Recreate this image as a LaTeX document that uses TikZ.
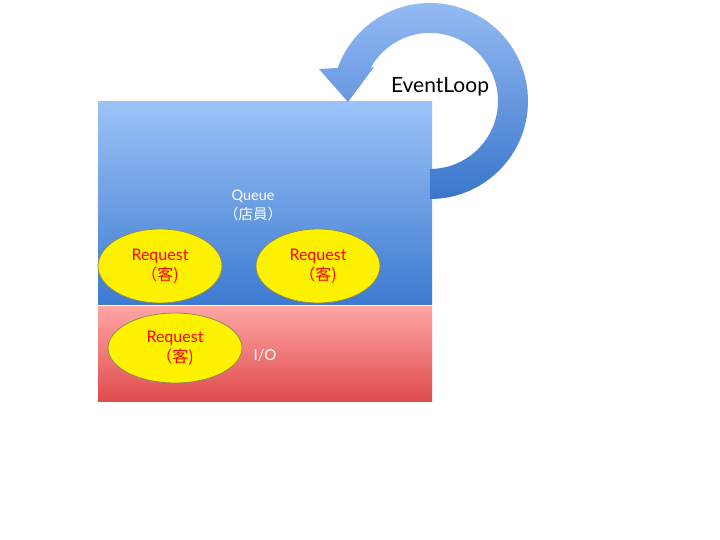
\documentclass[tikz,border=0pt]{standalone}
\usepackage{fontspec}
\setmainfont{Lato}
\newfontfamily\cjk{Noto Sans CJK JP}
\usetikzlibrary{shapes.geometric}
\definecolor{qtop}{HTML}{9CC2F8}
\definecolor{qbot}{HTML}{3C7AD0}
\definecolor{iotop}{HTML}{FFA4A4}
\definecolor{iobot}{HTML}{DF4B4B}
\definecolor{arrtop}{HTML}{94BAF3}
\definecolor{arrbot}{HTML}{3A76CB}
\definecolor{reqline}{HTML}{8C8A55}
\begin{document}
\begin{tikzpicture}[x=1pt, y=1pt,
    every node/.style={font=\fontsize{14.5}{19}\selectfont, align=center},
    layer/.style={minimum width=334pt, inner sep=0pt},
    req/.style={ellipse, draw=reqline, line width=0.8pt, fill=yellow,
      minimum width=124pt, minimum height=74pt, inner sep=0pt,
      text=red, font=\fontsize{16}{20}\selectfont},
    lbl/.style={text=white}]
  \useasboundingbox (0,0) rectangle (720,540);
  % Layers
  \node[layer, minimum height=203pt, top color=qtop, bottom color=qbot] (queue) at (265,336.5) {};
  \node[layer, minimum height=95pt, top color=iotop, bottom color=iobot] (io) at (265,185.5) {};
  \node[lbl] (qlabel) at (253,335) {Queue\\{\cjk （店員）}};
  \node[lbl, font=\fontsize{15}{18}\selectfont] (iolabel) at (265,185) {I/O};
  % Requests
  \node[req] (req1) at (160,274) {Request\\{\cjk （客)}};
  \node[req] (req2) at (318,274) {Request\\{\cjk （客)}};
  \node[req, minimum width=134pt, minimum height=70pt] (req3) at (175,192) {Request\\{\cjk （客)}};
  % Event loop
  \shade[top color=arrtop, bottom color=arrbot]
    (430,341) arc[start angle=-90, end angle=160.3, radius=98]
    -- (319,471) -- (348,438) -- (374,473) -- (370.5,472)
    arc[start angle=151, end angle=-90, radius=68] -- cycle;
  \node[font=\fontsize{21}{24}\selectfont] (loop) at (440,453) {EventLoop};
\end{tikzpicture}
\end{document}
